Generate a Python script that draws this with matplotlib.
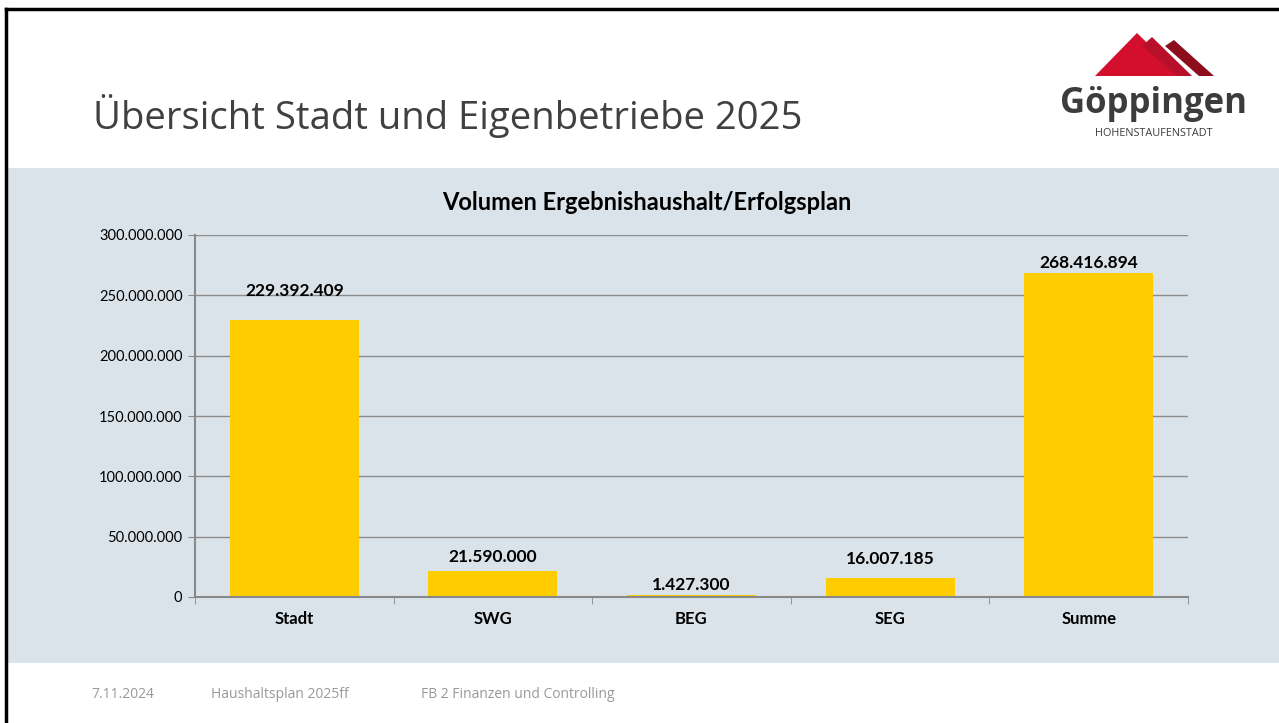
import matplotlib.pyplot as plt
from matplotlib.patches import Polygon, Rectangle

categories = ["Stadt", "SWG", "BEG", "SEG", "Summe"]
values = [229392409, 21590000, 1427300, 16007185, 268416894]
value_labels = ["229.392.409", "21.590.000", "1.427.300", "16.007.185", "268.416.894"]
yticks = [0, 50000000, 100000000, 150000000, 200000000, 250000000, 300000000]
ytick_labels = ["0", "50.000.000", "100.000.000", "150.000.000", "200.000.000", "250.000.000", "300.000.000"]
footer = ["7.11.2024", "Haushaltsplan 2025ff", "FB 2 Finanzen und Controlling"]

W, H = 1279, 723
fig = plt.figure(figsize=(W / 100, H / 100), dpi=100)
fig.patch.set_facecolor("white")

def fx(x):
    return x / W

def fy(y):
    return 1 - y / H

# slide background panel and frame
fig.patches.append(Rectangle((fx(7), fy(663)), fx(W) - fx(7), fy(168) - fy(663),
                             transform=fig.transFigure, facecolor="#dae3ea", edgecolor="none", zorder=-5))
fig.lines.append(plt.Line2D([fx(6), fx(6)], [fy(9), 0], transform=fig.transFigure, color="black", lw=2.5))
fig.lines.append(plt.Line2D([fx(6), 1], [fy(9), fy(9)], transform=fig.transFigure, color="black", lw=2.5))

fig.text(fx(93), fy(116), "Übersicht Stadt und Eigenbetriebe 2025", fontsize=27.5, color="#404040",
         family="Open Sans", va="center", ha="left")

# logo
fig.patches.append(Polygon([(fx(1095), fy(76)), (fx(1137), fy(33)), (fx(1181), fy(76))],
                           closed=True, transform=fig.transFigure, facecolor="#d40f2e", edgecolor="none"))
fig.patches.append(Polygon([(fx(1142), fy(46)), (fx(1152), fy(37)), (fx(1192), fy(76)), (fx(1177), fy(76))],
                           closed=True, transform=fig.transFigure, facecolor="#b8102a", edgecolor="none"))
fig.patches.append(Polygon([(fx(1165), fy(46)), (fx(1174), fy(40)), (fx(1214), fy(76)), (fx(1199), fy(76))],
                           closed=True, transform=fig.transFigure, facecolor="#8c0d1c", edgecolor="none"))
fig.text(fx(1154), fy(104), "Göppingen", fontsize=25, fontweight="bold", color="#3c3c3c",
         family="Open Sans", ha="center", va="center")
fig.text(fx(1154), fy(133), "HOHENSTAUFENSTADT", fontsize=7.8, color="#3c3c3c",
         family="Open Sans", ha="center", va="center")

# chart
ax = fig.add_axes([fx(195), fy(597), fx(1188) - fx(195), fy(235) - fy(597)])
ax.set_facecolor("none")
x = list(range(len(categories)))
ax.bar(x, values, width=0.65, color="#ffcc00", zorder=2)
ax.set_xlim(-0.5, len(categories) - 0.5)
ax.set_ylim(0, 300000000)
ax.set_yticks(yticks)
ax.set_yticklabels(ytick_labels, fontsize=10.5, family="Lato")
ax.set_xticks(x)
ax.set_xticklabels(categories, fontsize=12, fontweight="bold", family="Lato")
ax.set_xticks([i + 0.5 for i in range(-1, len(categories))], minor=True)
ax.tick_params(axis="x", which="major", length=0, pad=10)
ax.tick_params(axis="x", which="minor", length=5, color="#888888", direction="out")
ax.tick_params(axis="y", length=5, color="#888888", pad=4)
ax.yaxis.grid(True, color="#8c8c8c", lw=1, zorder=1)
ax.set_axisbelow(True)
for s in ["top", "right"]:
    ax.spines[s].set_visible(False)
for s in ["left", "bottom"]:
    ax.spines[s].set_color("#888888")
    ax.spines[s].set_linewidth(1.5)

offsets = [15.5, 4.5, 1.5, 7.5, 1.5]
for xi, v, lab, off in zip(x, values, value_labels, offsets):
    ax.annotate(lab, (xi, v), xytext=(0, off), textcoords="offset points", ha="center", va="bottom",
                fontsize=12.5, fontweight="bold", family="Lato")

fig.text(fx(647), fy(202), "Volumen Ergebnishaushalt/Erfolgsplan", fontsize=17, fontweight="bold",
         family="Lato", ha="center", va="center")

for xpos, t in zip([91, 211, 421], footer):
    fig.text(fx(xpos), fy(694), t, fontsize=10, color="#999999", family="Open Sans", va="center")

fig.savefig("out.png", dpi=100)
